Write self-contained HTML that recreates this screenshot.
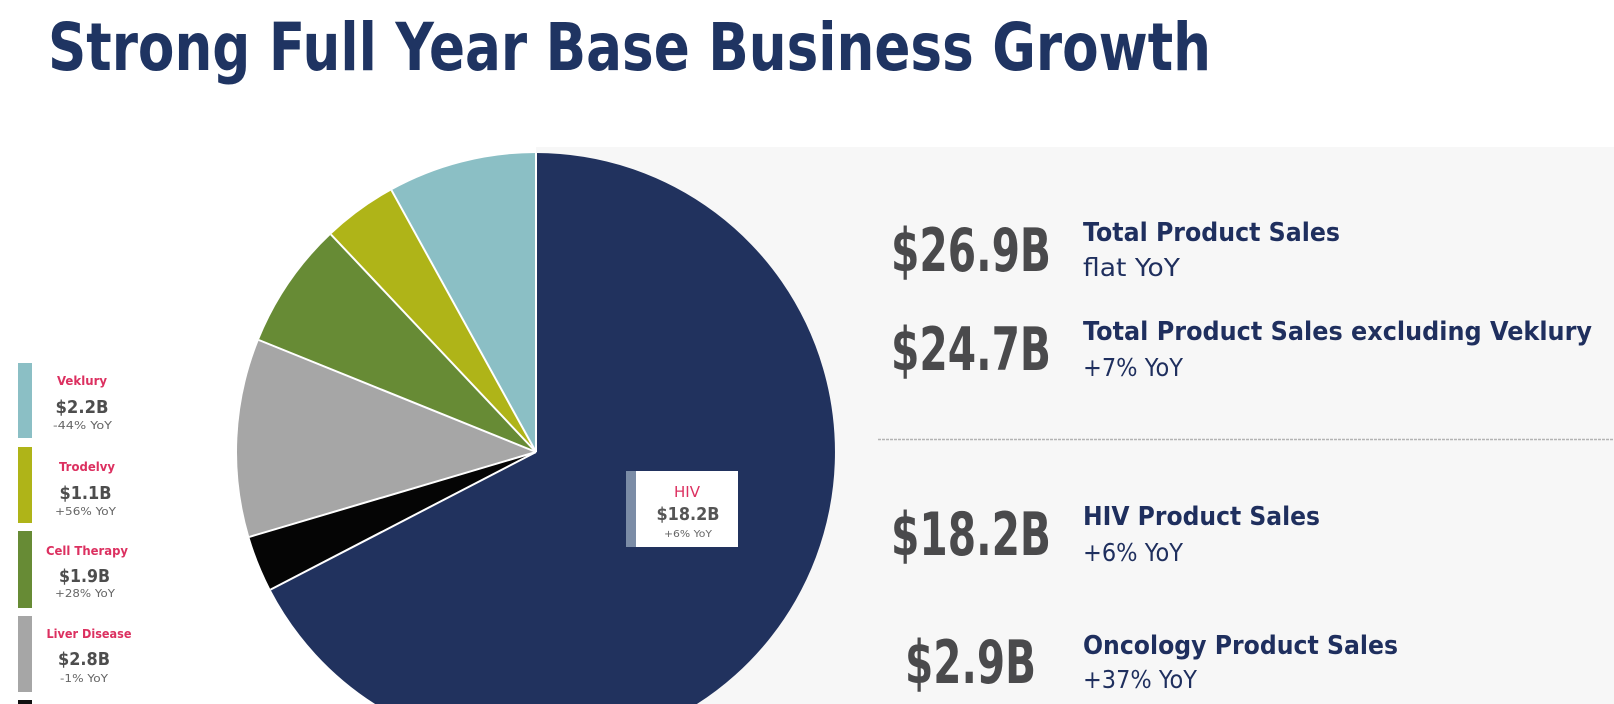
<!DOCTYPE html>
<html>
<head>
<meta charset="utf-8">
<style>
html,body{margin:0;padding:0;background:#fff;width:1614px;height:704px;overflow:hidden;}
svg{display:block;}
text{font-family:"DejaVu Sans","Liberation Sans",sans-serif;}
</style>
</head>
<body>
<svg width="1614" height="704" viewBox="0 0 1614 704" xmlns="http://www.w3.org/2000/svg">
  <rect x="0" y="0" width="1614" height="704" fill="#ffffff"/>
  <!-- light panel -->
  <rect x="536" y="147" width="1078" height="557" fill="#f7f7f7"/>

  <!-- Title -->
  <text x="48" y="70" font-size="66" font-weight="bold" fill="#1f3462" textLength="1163" lengthAdjust="spacingAndGlyphs">Strong Full Year Base Business Growth</text>

  <!-- Pie (HIV slice clipped flat at bottom edge) -->
  <path d="M536,452 L536,153 A299,299 0 0 1 696.9,704 L375.1,704 A299,299 0 0 1 270.5,589.6 Z" fill="#21325e"/>
  <path d="M536,452 L270.5,589.6 A299,299 0 0 1 249.3,536.9 Z" fill="#050505"/>
  <path d="M536,452 L249.3,536.9 A299,299 0 0 1 258.8,340 Z" fill="#a6a6a6"/>
  <path d="M536,452 L258.8,340 A299,299 0 0 1 330.9,234.4 Z" fill="#678b35"/>
  <path d="M536,452 L330.9,234.4 A299,299 0 0 1 391.5,190.2 Z" fill="#afb418"/>
  <path d="M536,452 L391.5,190.2 A299,299 0 0 1 536,153 Z" fill="#8bbfc5"/>
  <g stroke="#ffffff" stroke-width="2" stroke-linecap="butt">
    <line x1="536" y1="452" x2="536" y2="153"/>
    <line x1="536" y1="452" x2="270.5" y2="589.6"/>
    <line x1="536" y1="452" x2="249.3" y2="536.9"/>
    <line x1="536" y1="452" x2="258.8" y2="340"/>
    <line x1="536" y1="452" x2="330.9" y2="234.4"/>
    <line x1="536" y1="452" x2="391.5" y2="190.2"/>
  </g>

  <!-- HIV label box -->
  <rect x="626" y="471" width="10" height="76" fill="#7b8ca6"/>
  <rect x="636" y="471" width="102" height="76" fill="#ffffff"/>
  <text x="687" y="497" font-size="15" fill="#dc3060" text-anchor="middle" textLength="26" lengthAdjust="spacingAndGlyphs">HIV</text>
  <text x="688" y="520" font-size="18" font-weight="bold" fill="#555555" text-anchor="middle" textLength="63" lengthAdjust="spacingAndGlyphs">$18.2B</text>
  <text x="688" y="537" font-size="10" fill="#666666" text-anchor="middle" textLength="48" lengthAdjust="spacingAndGlyphs">+6% YoY</text>

  <!-- Legend bars -->
  <rect x="18" y="363" width="14" height="75" fill="#8bbfc5"/>
  <rect x="18" y="447" width="14" height="76" fill="#afb418"/>
  <rect x="18" y="531" width="14" height="77" fill="#678b35"/>
  <rect x="18" y="616" width="14" height="76" fill="#a6a6a6"/>
  <rect x="18" y="700" width="14" height="4" fill="#111111"/>

  <!-- Legend text -->
  <g text-anchor="middle">
    <text x="82" y="385" font-size="12.5" font-weight="bold" fill="#dc3060" textLength="50" lengthAdjust="spacingAndGlyphs">Veklury</text>
    <text x="82" y="413" font-size="18" font-weight="bold" fill="#4d4d4d" textLength="53" lengthAdjust="spacingAndGlyphs">$2.2B</text>
    <text x="82.5" y="429" font-size="11" fill="#666666" textLength="59" lengthAdjust="spacingAndGlyphs">-44% YoY</text>

    <text x="87" y="471" font-size="12.5" font-weight="bold" fill="#dc3060" textLength="56" lengthAdjust="spacingAndGlyphs">Trodelvy</text>
    <text x="85.5" y="499" font-size="18" font-weight="bold" fill="#4d4d4d" textLength="52" lengthAdjust="spacingAndGlyphs">$1.1B</text>
    <text x="85.5" y="515" font-size="11" fill="#666666" textLength="61" lengthAdjust="spacingAndGlyphs">+56% YoY</text>

    <text x="87" y="555" font-size="12.5" font-weight="bold" fill="#dc3060" textLength="82" lengthAdjust="spacingAndGlyphs">Cell Therapy</text>
    <text x="84.5" y="582" font-size="18" font-weight="bold" fill="#4d4d4d" textLength="51" lengthAdjust="spacingAndGlyphs">$1.9B</text>
    <text x="85" y="597" font-size="11" fill="#666666" textLength="60" lengthAdjust="spacingAndGlyphs">+28% YoY</text>

    <text x="89" y="638" font-size="12.5" font-weight="bold" fill="#dc3060" textLength="85" lengthAdjust="spacingAndGlyphs">Liver Disease</text>
    <text x="84" y="665" font-size="18" font-weight="bold" fill="#4d4d4d" textLength="52" lengthAdjust="spacingAndGlyphs">$2.8B</text>
    <text x="84" y="682" font-size="11" fill="#666666" textLength="48" lengthAdjust="spacingAndGlyphs">-1% YoY</text>
  </g>

  <!-- Right side big numbers -->
  <g font-size="60" font-weight="bold" fill="#4a4a4c">
    <text x="891" y="271" textLength="160" lengthAdjust="spacingAndGlyphs">$26.9B</text>
    <text x="891" y="370" textLength="160" lengthAdjust="spacingAndGlyphs">$24.7B</text>
    <text x="891" y="555" textLength="160" lengthAdjust="spacingAndGlyphs">$18.2B</text>
    <text x="905" y="683" textLength="131" lengthAdjust="spacingAndGlyphs">$2.9B</text>
  </g>

  <!-- Right side labels -->
  <g fill="#1f2f5e">
    <text x="1083" y="241" font-size="26" font-weight="bold" textLength="257" lengthAdjust="spacingAndGlyphs">Total Product Sales</text>
    <text x="1083" y="276" font-size="25" textLength="97" lengthAdjust="spacingAndGlyphs">flat YoY</text>

    <text x="1083" y="340" font-size="26" font-weight="bold" textLength="509" lengthAdjust="spacingAndGlyphs">Total Product Sales excluding Veklury</text>
    <text x="1083" y="376" font-size="25" textLength="100" lengthAdjust="spacingAndGlyphs">+7% YoY</text>

    <text x="1083" y="525" font-size="26" font-weight="bold" textLength="237" lengthAdjust="spacingAndGlyphs">HIV Product Sales</text>
    <text x="1083" y="561" font-size="25" textLength="100" lengthAdjust="spacingAndGlyphs">+6% YoY</text>

    <text x="1083" y="654" font-size="26" font-weight="bold" textLength="315" lengthAdjust="spacingAndGlyphs">Oncology Product Sales</text>
    <text x="1083" y="688" font-size="25" textLength="114" lengthAdjust="spacingAndGlyphs">+37% YoY</text>
  </g>

  <!-- dotted separator -->
  <line x1="878" y1="439.5" x2="1614" y2="439.5" stroke="#b4b4b4" stroke-width="1.5" stroke-dasharray="3 1"/>
</svg>
</body>
</html>
